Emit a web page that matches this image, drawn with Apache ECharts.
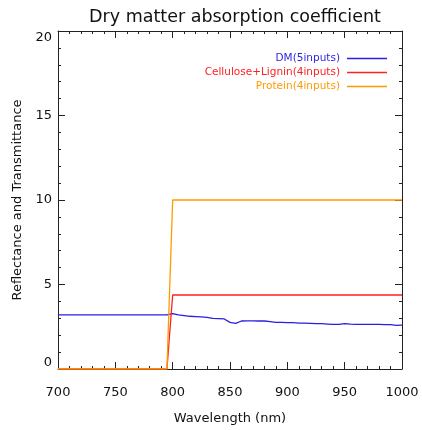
<!DOCTYPE html>
<html>
<head>
<meta charset="utf-8">
<script src="https://cdn.jsdelivr.net/npm/echarts@6/dist/echarts.min.js"></script>
<style>
html,body{margin:0;padding:0;background:#fff;}
#chart{width:422px;height:430px;}
</style>
</head>
<body>
<div id="chart"></div>
<script>
const titleText = 'Dry matter absorption coefficient';
const xName = 'Wavelength (nm)';
const yName = 'Reflectance and Transmittance';
const seriesNames = ['DM(5inputs)', 'Cellulose+Lignin(4inputs)', 'Protein(4inputs)'];
const seriesColors = ['#2a1fe0', '#ff2020', '#ff9a00'];

const dmX = [700, 795, 800, 805, 810, 815, 820, 825, 830, 835, 840, 845, 850, 855, 860, 865, 870, 875, 880, 885, 890, 895, 900, 905, 910, 915, 920, 925, 930, 935, 940, 945, 950, 955, 960, 965, 970, 975, 980, 985, 990, 995, 1000];
const dmY = [3.2, 3.2, 3.28, 3.2, 3.16, 3.12, 3.1, 3.08, 3.06, 3.0, 2.98, 2.96, 2.76, 2.7, 2.84, 2.85, 2.85, 2.84, 2.84, 2.8, 2.76, 2.76, 2.74, 2.74, 2.72, 2.72, 2.7, 2.68, 2.68, 2.66, 2.64, 2.64, 2.68, 2.65, 2.64, 2.64, 2.64, 2.64, 2.64, 2.62, 2.62, 2.58, 2.6];
const celX = [700, 795, 800, 1000];
const celY = [0, 0, 4.38, 4.38];
const proX = [700, 795, 800, 1000];
const proY = [0, 0, 10, 10];

const xTicks = [700, 750, 800, 850, 900, 950, 1000];
const yTicks = [0, 5, 10, 15, 20];

function pairs(xs, ys) { return xs.map((x, i) => [x, ys[i]]); }

const font = 'DejaVu Sans';
const axisCol = '#222';

const chart = echarts.init(document.getElementById('chart'), null, {renderer: 'canvas'});
const baseX = {
  type: 'value', min: xTicks[0], max: xTicks[xTicks.length - 1], interval: 50,
  axisLine: {show: true, onZero: false, lineStyle: {color: axisCol, width: 1}},
  axisTick: {show: true, inside: true, length: 7, lineStyle: {color: axisCol}},
  minorTick: {show: true, splitNumber: 5, length: 3, lineStyle: {color: axisCol}},
  splitLine: {show: false}
};
const baseY = {
  type: 'value', min: yTicks[0], max: yTicks[yTicks.length - 1], interval: 5,
  axisLine: {show: true, onZero: false, lineStyle: {color: axisCol, width: 1}},
  axisTick: {show: true, inside: true, length: 7, lineStyle: {color: axisCol}},
  minorTick: {show: true, splitNumber: 5, length: 3, lineStyle: {color: axisCol}},
  splitLine: {show: false}
};

chart.setOption({
  animation: false,
  backgroundColor: '#fff',
  title: {
    text: titleText, left: 230, textAlign: 'center', top: 3,
    textStyle: {fontFamily: font, fontSize: 17.5, fontWeight: 'normal', color: '#111'}
  },
  grid: {left: 58, right: 20, top: 31, bottom: 61},
  legend: {
    orient: 'vertical', right: 30, top: 48, align: 'right',
    itemWidth: 40, itemHeight: 1.5, itemGap: 3, icon: 'rect',
    textStyle: {fontFamily: font, fontSize: 10.5, padding: [0, 2, 0, 0]},
    data: seriesNames.map((n, i) => ({
      name: n,
      icon: 'rect',
      textStyle: {color: seriesColors[i]},
      itemStyle: {color: seriesColors[i], borderWidth: 0, opacity: 1},
      lineStyle: {color: seriesColors[i], opacity: 1}
    }))
  },
  xAxis: [
    Object.assign({}, baseX, {
      position: 'bottom',
      name: xName, nameLocation: 'middle', nameGap: 43,
      nameTextStyle: {fontFamily: font, fontSize: 13, color: '#111'},
      axisLabel: {show: true, margin: 17, fontFamily: font, fontSize: 13, color: '#111',
        formatter: v => String(v)}
    }),
    Object.assign({}, baseX, {position: 'top', axisLabel: {show: false}})
  ],
  yAxis: [
    Object.assign({}, baseY, {
      position: 'left',
      name: yName, nameLocation: 'middle', nameGap: 33, nameRotate: 90,
      nameTextStyle: {fontFamily: font, fontSize: 13, color: '#111'},
      axisLabel: {show: true, margin: 6, fontFamily: font, fontSize: 13, color: '#111',
        verticalAlignMinLabel: 'bottom', verticalAlignMaxLabel: 'top'}
    }),
    Object.assign({}, baseY, {position: 'right', axisLabel: {show: false}})
  ],
  series: [
    {name: seriesNames[0], type: 'line', data: pairs(dmX, dmY), symbol: 'none', lineStyle: {color: seriesColors[0], width: 1.3}, itemStyle: {color: seriesColors[0]}},
    {name: seriesNames[1], type: 'line', data: pairs(celX, celY), symbol: 'none', lineStyle: {color: seriesColors[1], width: 1.3}, itemStyle: {color: seriesColors[1]}},
    {name: seriesNames[2], type: 'line', data: pairs(proX, proY), symbol: 'none', lineStyle: {color: seriesColors[2], width: 1.3}, itemStyle: {color: seriesColors[2]}}
  ]
});
</script>
</body>
</html>
